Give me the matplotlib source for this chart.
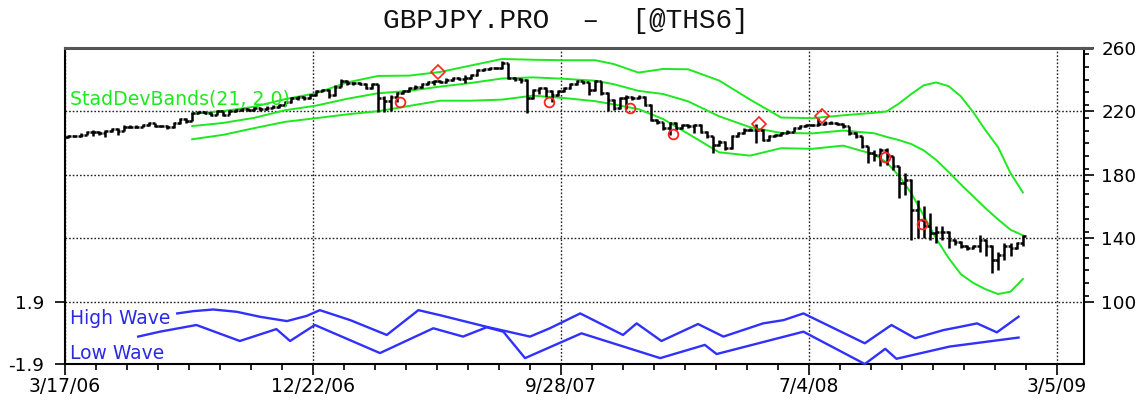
import numpy as np
import matplotlib
matplotlib.use("Agg")
import matplotlib.pyplot as plt
from matplotlib.ticker import FixedLocator, FixedFormatter, MultipleLocator

# ---------------- data ----------------
title = "GBPJPY.PRO  \u2013  [@THS6]"
date_labels = ["3/17/06", "12/22/06", "9/28/07", "7/4/08", "3/5/09"]
date_pos = [0, 40, 80, 120, 160]          # weeks since 3/17/06
price_ticks = [100, 140, 180, 220, 260]
wave_ticks = [-1.9, 1.9]
wave_tick_labels = ["-1.9", "1.9"]

opens = [204.0, 204.3, 204.7, 205.3, 207.0, 207.4, 206.3, 207.8, 209.0, 207.8,
         210.5, 210.5, 210.5, 211.6, 212.6, 211.0, 211.0, 210.0, 212.6, 215.4,
         214.3, 219.0, 219.6, 219.0, 218.0, 220.0, 218.0, 220.0, 221.0, 221.5,
         221.0, 222.0, 221.5, 222.5, 223.0, 224.0, 226.0, 228.4, 229.0, 228.4,
         230.5, 232.6, 233.6, 230.5, 235.7, 239.3, 237.8, 237.8, 237.2, 234.7,
         237.2, 228.4, 226.3, 229.4, 231.5, 233.0, 234.7, 235.7, 237.2, 238.5,
         238.9, 238.5, 240.0, 241.0, 240.6, 241.0, 243.1, 246.2, 246.9, 247.3,
         247.3, 250.4, 241.0, 240.6, 240.0, 228.4, 233.6, 234.7, 232.6, 230.5,
         232.6, 234.7, 237.4, 238.9, 238.3, 233.6, 238.9, 231.5, 227.3, 222.1,
         228.4, 229.4, 228.4, 229.4, 224.2, 214.8, 213.1, 209.5, 212.6, 209.5,
         211.6, 210.6, 211.6, 207.4, 204.3, 199.0, 201.1, 196.9, 204.3, 206.4,
         208.5, 208.5, 208.5, 202.2, 204.3, 205.3, 206.4, 207.4, 209.5, 211.0,
         211.6, 211.6, 212.2, 213.0, 213.0, 212.2, 210.6, 206.4, 204.3, 198.0,
         193.8, 192.7, 195.9, 191.7, 185.4, 174.9, 177.0, 158.0, 151.8, 147.6,
         143.4, 144.4, 144.4, 139.2, 138.1, 135.0, 133.9, 135.0, 139.2, 135.0,
         126.6, 129.7, 135.0, 133.9, 137.1]
highs = [205.3, 205.5, 206.2, 207.8, 208.3, 208.0, 208.6, 209.8, 209.6, 211.2,
         211.3, 211.2, 212.4, 213.4, 213.0, 211.8, 211.5, 213.3, 216.2, 216.0,
         219.8, 220.4, 220.3, 219.5, 220.8, 220.5, 220.8, 221.8, 222.3, 222.2,
         222.8, 222.7, 223.3, 223.8, 224.8, 226.8, 229.2, 229.9, 230.0, 231.3,
         233.4, 234.4, 234.0, 236.5, 240.2, 239.8, 238.6, 238.4, 237.8, 238.0,
         237.6, 229.5, 230.2, 232.3, 233.8, 235.5, 236.5, 238.0, 239.3, 239.8,
         239.8, 240.8, 241.8, 241.8, 243.0, 243.9, 247.0, 247.7, 248.1, 248.1,
         252.0, 250.8, 241.8, 241.3, 240.4, 234.4, 235.5, 235.2, 233.3, 233.4,
         235.5, 238.2, 239.7, 239.5, 238.8, 239.7, 239.4, 232.0, 227.8, 229.2,
         230.2, 230.0, 230.2, 229.9, 224.6, 215.5, 213.6, 213.4, 213.2, 212.4,
         212.2, 212.4, 212.0, 207.9, 204.7, 201.9, 201.6, 205.3, 207.2, 209.3,
         209.3, 212.0, 208.9, 205.1, 206.1, 207.2, 208.2, 210.3, 211.8, 212.4,
         212.4, 216.0, 213.8, 213.8, 213.6, 212.6, 211.0, 206.8, 204.7, 198.5,
         195.9, 197.0, 197.2, 192.2, 185.8, 181.2, 177.4, 164.4, 160.2, 156.0,
         147.6, 147.6, 144.8, 139.8, 138.6, 135.6, 135.8, 142.3, 139.6, 136.0,
         131.8, 137.1, 137.1, 138.1, 142.3]
lows = [203.5, 203.8, 204.0, 205.0, 204.5, 205.5, 204.2, 207.0, 205.0, 207.5,
        209.6, 209.5, 210.0, 211.0, 210.3, 210.2, 209.0, 209.6, 212.0, 213.0,
        214.0, 218.5, 218.2, 217.2, 217.5, 217.0, 217.6, 219.5, 220.4, 220.2,
        220.5, 220.6, 221.0, 222.0, 222.4, 223.5, 225.5, 227.4, 227.5, 228.0,
        230.0, 232.0, 228.4, 230.0, 235.2, 237.0, 237.0, 236.4, 233.9, 234.2,
        219.8, 219.8, 220.2, 226.0, 231.0, 232.4, 234.0, 235.0, 236.8, 236.5,
        237.8, 238.0, 239.4, 239.8, 237.8, 240.5, 242.6, 245.6, 246.2, 246.5,
        246.8, 240.2, 239.4, 238.2, 219.0, 228.0, 230.8, 229.0, 226.0, 229.8,
        232.0, 234.2, 236.8, 237.4, 230.5, 233.0, 230.6, 220.2, 221.2, 221.6,
        221.5, 227.4, 227.6, 223.3, 214.0, 212.3, 208.6, 205.2, 208.6, 209.0,
        209.8, 206.5, 206.6, 203.4, 193.8, 198.4, 196.0, 196.4, 203.8, 205.8,
        207.7, 200.4, 201.4, 201.7, 203.8, 204.8, 205.9, 207.0, 209.0, 210.4,
        210.6, 211.0, 211.6, 212.0, 211.4, 209.8, 205.5, 203.4, 197.0, 187.5,
        189.0, 185.4, 186.5, 183.0, 165.4, 167.5, 139.2, 140.2, 140.2, 139.2,
        137.0, 139.2, 134.0, 136.0, 134.0, 132.6, 133.2, 131.8, 128.7, 118.2,
        120.3, 126.6, 128.7, 133.4, 135.0]
closes = [204.3, 204.7, 205.3, 207.0, 207.4, 206.3, 207.8, 209.0, 207.8, 210.5,
          210.5, 210.5, 211.6, 212.6, 211.0, 211.0, 210.0, 212.6, 215.4, 214.3,
          219.0, 219.6, 219.0, 218.0, 220.0, 218.0, 220.0, 221.0, 221.5, 221.0,
          222.0, 221.5, 222.5, 223.0, 224.0, 226.0, 228.4, 229.0, 228.4, 230.5,
          232.6, 233.6, 230.5, 235.7, 239.3, 237.8, 237.8, 237.2, 234.7, 237.2,
          228.4, 226.3, 229.4, 231.5, 233.0, 234.7, 235.7, 237.2, 238.5, 238.9,
          238.5, 240.0, 241.0, 240.6, 241.0, 243.1, 246.2, 246.9, 247.3, 247.3,
          250.4, 241.0, 240.6, 240.0, 228.4, 233.6, 234.7, 232.6, 230.5, 232.6,
          234.7, 237.4, 238.9, 238.3, 233.6, 238.9, 231.5, 227.3, 222.1, 228.4,
          229.4, 228.4, 229.4, 224.2, 214.8, 213.1, 209.5, 212.6, 209.5, 211.6,
          210.6, 211.6, 207.4, 204.3, 199.0, 201.1, 196.9, 204.3, 206.4, 208.5,
          208.5, 208.5, 202.2, 204.3, 205.3, 206.4, 207.4, 209.5, 211.0, 211.6,
          211.6, 212.2, 213.0, 213.0, 212.2, 210.6, 206.4, 204.3, 198.0, 193.8,
          192.7, 195.9, 191.7, 185.4, 174.9, 177.0, 158.0, 151.8, 147.6, 143.4,
          144.4, 144.4, 139.2, 138.1, 135.0, 133.9, 135.0, 139.2, 135.0, 126.6,
          129.7, 135.0, 133.9, 137.1, 141.3]

# StadDevBands(21, 2.0) read at these bars
band_bar = [20, 25, 30, 35, 40, 45, 50, 55, 60, 65, 70, 75, 80, 85, 88, 92, 96, 100,
            105, 110, 115, 120, 125, 130, 132, 134, 136, 138, 140, 142, 144, 146,
            148, 150, 152, 154]
band_upper = [218.5, 220.3, 223.0, 227.8, 231.5, 238.3, 242.4, 242.6, 244.9, 249.0,
              253.1, 252.6, 252.3, 252.3, 249.9, 244.5, 246.8, 246.6, 239.5, 227.5,
              216.2, 215.8, 217.6, 219.2, 220.0, 225.0, 231.0, 236.5, 238.3, 236.0,
              229.5, 219.5, 208.0, 197.5, 181.2, 169.0]
band_mid = [210.8, 212.8, 216.0, 220.8, 223.7, 228.0, 231.5, 233.0, 235.7, 238.0,
            240.8, 241.5, 240.6, 239.4, 237.2, 233.0, 231.0, 226.4, 217.0, 210.1,
            206.5, 206.2, 208.0, 206.3, 204.0, 202.0, 199.5, 195.5, 189.5, 182.0,
            174.0, 166.5, 159.0, 152.0, 145.5, 142.0]
band_lower = [202.5, 205.3, 209.5, 213.5, 215.8, 218.2, 220.2, 223.5, 226.8, 226.8,
              227.5, 230.0, 228.5, 226.5, 224.5, 221.5, 215.2, 206.0, 194.3, 192.2,
              196.9, 196.5, 198.5, 193.0, 188.0, 179.5, 168.5, 154.5, 140.0, 127.8,
              117.5, 112.0, 108.0, 105.0, 106.5, 114.5]

# signal markers (position in weeks, price)
circle_pos = [54.1, 78.1, 91.1, 98.1, 132.3, 138.3]
circle_val = [225.8, 225.8, 222.0, 205.8, 191.1, 149.1]
diamond_pos = [60.1, 111.9, 122.1]
diamond_val = [244.7, 212.1, 217.0]

# lower panel waves (position in weeks, value)
hw_pos = [18.1, 20.7, 23.9, 27.7, 31.5, 35.8, 39.0, 41.1, 46.0, 51.9, 57.0, 60.5,
          68.0, 75.0, 78.2, 83.1, 90.0, 92.2, 96.2, 102.1, 106.2, 112.6, 115.9,
          119.1, 129.0, 133.3, 137.1, 141.7, 144.4, 147.1, 150.3, 153.8]
hw_val = [1.20, 1.34, 1.44, 1.30, 0.99, 0.73, 1.05, 1.40, 0.79, -0.12, 1.40, 1.09,
          0.38, -0.22, 0.29, 1.20, -0.12, 0.59, -0.49, 0.55, -0.22, 0.59, 0.79,
          1.20, -0.63, 0.49, -0.32, 0.18, 0.38, 0.59, 0.04, 1.00]
lw_pos = [11.8, 15.3, 21.2, 28.2, 34.1, 36.3, 40.3, 50.8, 59.4, 64.2, 68.0, 70.7,
          74.2, 83.3, 96.0, 103.2, 105.1, 119.1, 129.0, 132.3, 134.1, 142.7, 153.8]
lw_val = [-0.22, 0.08, 0.49, -0.49, 0.24, -0.49, 0.49, -1.23, 0.29, -0.22, 0.35,
          0.08, -1.54, -0.02, -1.54, -0.73, -1.29, 0.08, -1.90, -0.97, -1.58,
          -0.83, -0.28]

# ---------------- figure ----------------
W, H = 1142, 400
fig = plt.figure(figsize=(W / 100, H / 100), dpi=100)
fig.patch.set_facecolor("white")

L, R = 65, 1084
ax = fig.add_axes([L / W, 1 - 302 / H, (R - L) / W, 254 / H])
ax2 = fig.add_axes([L / W, 1 - 364 / H, (R - L) / W, 62 / H], sharex=ax)

grid_kw = dict(color="#222222", linestyle=(0, (1.2, 1.4)), linewidth=1.0)
green = "#1ee81e"
blue = "#3030ff"

pos = np.arange(len(closes)) + 0.5
band_x = np.array(band_bar) + 0.5

# bands
for b in (band_upper, band_mid, band_lower):
    ax.plot(band_x, b, color=green, lw=1.4, zorder=2, solid_joinstyle="round")

# OHLC bars
bar_kw = dict(color="black", lw=1.8, zorder=3)
ax.vlines(pos, lows, highs, **bar_kw)
ax.hlines(opens, pos - 0.45, pos, **bar_kw)
ax.hlines(closes, pos, pos + 0.45, **bar_kw)

# signals
ax.plot(circle_pos, circle_val, "o", ms=7, mfc="none", mec="#ff2020", mew=1.3, zorder=4)
ax.plot(diamond_pos, diamond_val, "D", ms=7.5, mfc="none", mec="#ff2020", mew=1.2, zorder=4)

ax.text(0.005, 0.776, "StadDevBands(21, 2.0)", transform=ax.transAxes,
        color=green, fontsize=13.6, va="baseline", ha="left", zorder=5)

ax.set_xlim(0, (R - L) / 6.2)
ax.set_ylim(100, 260)
ax.yaxis.tick_right()
ax.yaxis.set_major_locator(FixedLocator(price_ticks))
ax.yaxis.set_minor_locator(MultipleLocator(8))
ax.tick_params(axis="y", which="major", direction="out", length=7.5, width=1.2,
               pad=5, labelsize=13.2, left=False, right=True)
ax.tick_params(axis="y", which="minor", direction="out", length=3.8, width=1.2,
               left=False, right=True)
ax.tick_params(axis="x", which="both", bottom=False, top=False, labelbottom=False)
ax.grid(True, which="major", **grid_kw)
ax.set_axisbelow(True)
ax.spines["bottom"].set_visible(False)
ax.spines["top"].set_color("#555555")
ax.spines["top"].set_linewidth(2.2)
for s in ("left", "right"):
    ax.spines[s].set_color("black")
    ax.spines[s].set_linewidth(1.5)
# top border continues a little past the price scale spine, as in the reference
ax.plot([1.0, 1.009], [1.0, 1.0], transform=ax.transAxes, color="#555555",
        lw=2.2, clip_on=False, solid_capstyle="butt")

# lower panel
ax2.plot(hw_pos, hw_val, color=blue, lw=1.7, zorder=3, clip_on=False)
ax2.plot(lw_pos, lw_val, color=blue, lw=1.7, zorder=3, clip_on=False)
ax2.text(0.005, 0.644, "High Wave", transform=ax2.transAxes, color="#2a2ae6",
         fontsize=13.5, va="baseline", ha="left")
ax2.text(0.005, 0.085, "Low Wave", transform=ax2.transAxes, color="#2a2ae6",
         fontsize=13.5, va="baseline", ha="left")
ax2.set_ylim(-1.9, 1.9)
ax2.yaxis.set_major_locator(FixedLocator(wave_ticks))
ax2.yaxis.set_major_formatter(FixedFormatter(wave_tick_labels))
ax2.tick_params(axis="y", which="major", direction="out", length=7, width=1.2,
                pad=8, labelsize=13.2, left=True, right=False)
ax2.xaxis.set_major_locator(FixedLocator(date_pos))
ax2.xaxis.set_major_formatter(FixedFormatter(date_labels))
ax2.xaxis.set_minor_locator(MultipleLocator(5))
ax2.tick_params(axis="x", which="major", direction="out", length=8, width=1.2,
                pad=1, labelsize=13.5)
ax2.tick_params(axis="x", which="minor", direction="out", length=4, width=1.2)
ax2.grid(True, which="major", **grid_kw)
ax2.set_axisbelow(True)
ax2.spines["top"].set_visible(False)
for s in ("left", "right", "bottom"):
    ax2.spines[s].set_color("black")
    ax2.spines[s].set_linewidth(1.5)

fig.text(0.4952, 0.948, title, ha="center", va="center", fontsize=20,
         family=["Liberation Mono", "DejaVu Sans Mono"], color="#111111")

fig.savefig("out.png", dpi=100, facecolor="white")
